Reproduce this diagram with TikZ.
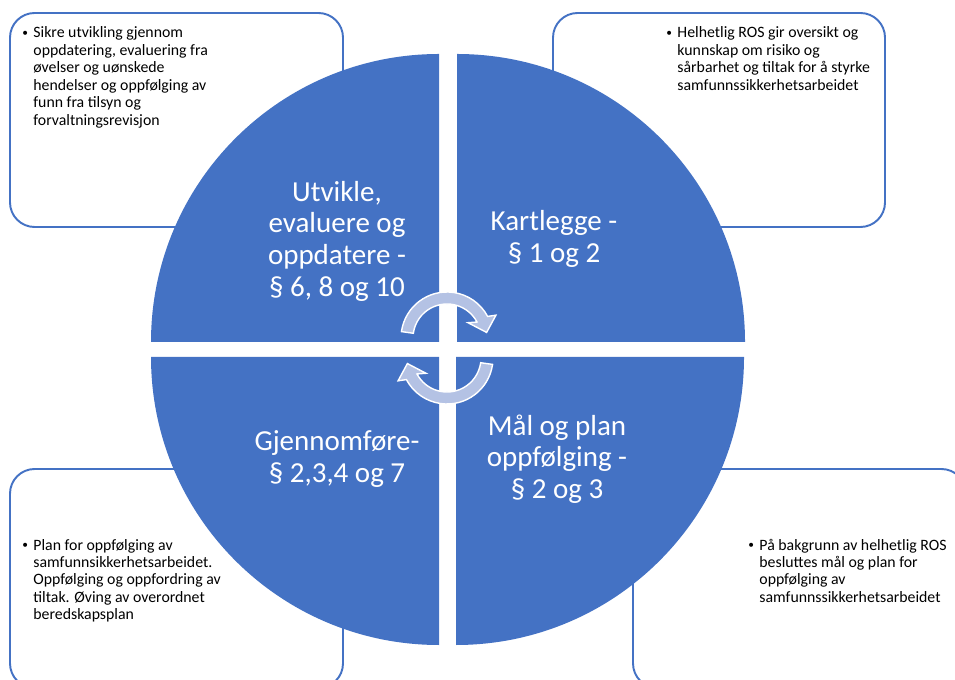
\documentclass[tikz,border=0pt]{standalone}
\usepackage{fontspec}
\setmainfont{Carlito}
\usepackage{tikz}
\usetikzlibrary{positioning}
\definecolor{rosbla}{RGB}{68,114,196}
\definecolor{roslys}{RGB}{180,194,228}
\newcommand{\punkt}[1]{\makebox[6.3pt][l]{\raisebox{0.6pt}{\fontsize{6.5}{7}\selectfont\textbullet}}\begin{tabular}[t]{@{}l@{}}#1\end{tabular}}

\begin{document}
\begin{tikzpicture}[x=0.02cm, y=0.02cm,
  boks/.style={draw=rosbla, line width=1.1pt, fill=white, rounded corners=14pt},
  pil/.style={fill=roslys, draw=white, line width=0.8pt},
  feltnavn/.style={white, align=center, font=\fontsize{16.5}{18}\selectfont},
  punktnavn/.style={black, anchor=base west, inner sep=0pt, font=\fontsize{9}{9.95}\selectfont}]
  \useasboundingbox (0,0) rectangle (955,679);

  % Tekstbokser bak sirkelen
  \draw[boks] (10,452) rectangle (343,666);
  \draw[boks] (553,452) rectangle (885,666);
  \draw[boks] (10,-9) rectangle (343,210);
  \draw[boks] (633,-9) rectangle (966,210);

  % Sirkel i fire felt
  \fill[rosbla] (439,337) -- (151,337) arc[start angle=180, end angle=90, radius=288] -- cycle;
  \fill[rosbla] (457,337) -- (457,625) arc[start angle=90, end angle=0, radius=288] -- cycle;
  \fill[rosbla] (456,322) -- (744,322) arc[start angle=0, end angle=-90, radius=288] -- cycle;
  \fill[rosbla] (439,322) -- (439,34) arc[start angle=270, end angle=180, radius=288] -- cycle;

  % Sirkulaere piler i midten
  \foreach \py/\rot in {341/0, 321/180} {
    \begin{scope}[shift={(447,\py)}, rotate=\rot]
      \draw[pil] (172:46) arc[start angle=172, end angle=28, radius=46]
        -- (25:54) -- (8:40) -- (36:26) -- (28:34)
        arc[start angle=28, end angle=172, radius=34] -- cycle;
    \end{scope}
  }

  % Feltnavn
  \node[feltnavn] (utvikle) at (337,438) {Utvikle,\\evaluere og\\oppdatere -\\§ 6, 8 og 10};
  \node[feltnavn] (kartlegge) at (554,440) {Kartlegge -\\§ 1 og 2};
  \node[feltnavn] (gjennomfore) at (337,220) {Gjennomføre-\\§ 2,3,4 og 7};
  \node[feltnavn] (maal) at (557,220) {Mål og plan\\oppfølging -\\§ 2 og 3};

  % Punkter i boksene
  \node[punktnavn] (utvikletekst) at (22,641) {\punkt{Sikre utvikling gjennom\\oppdatering, evaluering fra\\øvelser og uønskede\\hendelser og oppfølging av\\funn fra tilsyn og\\forvaltningsrevisjon}};
  \node[punktnavn] (kartleggetekst) at (666,641) {\punkt{Helhetlig ROS gir oversikt og\\kunnskap om risiko og\\sårbarhet og tiltak for å styrke\\samfunnssikkerhetsarbeidet}};
  \node[punktnavn] (gjennomforetekst) at (22,129) {\punkt{Plan for oppfølging av\\samfunnsikkerhetsarbeidet.\\Oppfølging og oppfordring av\\tiltak. Øving av overordnet\\beredskapsplan}};
  \node[punktnavn] (maaltekst) at (748,129) {\punkt{På bakgrunn av helhetlig ROS\\besluttes mål og plan for\\oppfølging av\\samfunnssikkerhetsarbeidet}};
\end{tikzpicture}
\end{document}
